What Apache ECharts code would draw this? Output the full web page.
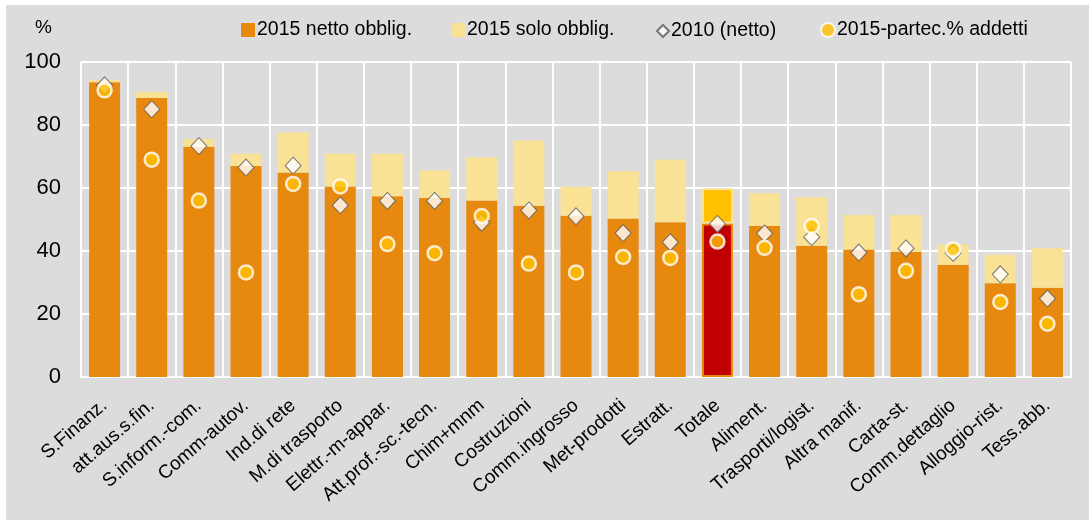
<!DOCTYPE html>
<html>
<head>
<meta charset="utf-8">
<script src="https://cdn.jsdelivr.net/npm/echarts@6/dist/echarts.min.js"></script>
<style>
html, body { margin: 0; padding: 0; background: #fff; }
#main { width: 1089px; height: 520px; }
</style>
</head>
<body>
<div id="main"></div>
<script>
var categories = ['S.Finanz.', 'att.aus.s.fin.', 'S.inform.-com.', 'Comm-autov.', 'Ind.di rete', 'M.di trasporto',
  'Elettr.-m-appar.', 'Att.prof.-sc.-tecn.', 'Chim+mnm', 'Costruzioni', 'Comm.ingrosso', 'Met-prodotti',
  'Estratt.', 'Totale', 'Aliment.', 'Trasporti/logist.', 'Altra manif.', 'Carta-st.', 'Comm.dettaglio',
  'Alloggio-rist.', 'Tess.abb.'];
// 2015 netto obblig.
var netto2015 = [93.6, 88.6, 73.1, 67.0, 64.9, 60.5, 57.4, 56.8, 56.0, 54.4, 51.2, 50.3, 49.1, 48.7, 47.9, 41.7, 40.5, 39.7, 35.6, 29.8, 28.3];
// 2015 solo obblig. (parte sopra il netto)
var solo2015 = [0.7, 1.9, 2.4, 3.9, 12.7, 10.4, 13.5, 8.8, 13.7, 20.7, 9.2, 15.0, 19.9, 11.2, 10.4, 15.4, 10.9, 11.7, 6.5, 9.0, 12.6];
// 2010 (netto)
var netto2010 = [92.6, 85.0, 73.3, 66.5, 67.1, 54.5, 55.9, 55.9, 49.0, 52.9, 51.0, 45.7, 42.8, 48.6, 45.6, 44.4, 39.5, 40.8, 39.4, 32.6, 24.9];
// 2015-partec.% addetti
var partec2015 = [91.0, 69.0, 56.0, 33.2, 61.3, 60.5, 42.2, 39.3, 51.1, 36.0, 33.2, 38.1, 37.8, 43.0, 41.0, 47.9, 26.3, 33.7, 40.5, 23.8, 16.9];
var yTicks = [0, 20, 40, 60, 80, 100];

var totIdx = categories.indexOf('Totale');
var fontF = "'Liberation Sans', Arial, sans-serif";

var myChart = echarts.init(document.getElementById('main'));

var nettoData = netto2015.map(function (v, i) {
  if (i == totIdx) {
    return { value: v, itemStyle: { color: '#c00000', borderColor: '#e8890f', borderWidth: 2 } };
  }
  return v;
});
var soloData = solo2015.map(function (v, i) {
  if (i == totIdx) {
    return { value: v, itemStyle: { color: '#ffc000', borderColor: '#f9e196', borderWidth: 2 } };
  }
  return v;
});

var legendBase = {
  top: 15,
  itemWidth: 14,
  itemHeight: 14,
  itemGap: 0,
  textStyle: { fontFamily: fontF, fontSize: 19.5, color: '#000', padding: [0, 0, 0, -3] }
};

var option = {
  backgroundColor: '#fff',
  animation: false,
  graphic: [
    { type: 'rect', shape: { x: 6, y: 5, width: 1083, height: 515 }, style: { fill: '#dcdcdc' }, z: -10 },
    { type: 'text', left: 35, top: 18, style: { text: '%', font: "19px 'Liberation Sans', sans-serif", fill: '#000' } }
  ],
  legend: [
    Object.assign({}, legendBase, { left: 236, data: [{ name: '2015 netto obblig.', icon: 'rect' }] }),
    Object.assign({}, legendBase, { left: 446, data: [{ name: '2015 solo obblig.', icon: 'rect' }] }),
    Object.assign({}, legendBase, { left: 651, itemWidth: 12, itemHeight: 12, top: 16, data: [{ name: '2010 (netto)', icon: 'diamond' }] }),
    Object.assign({}, legendBase, { left: 815, data: [{ name: '2015-partec.% addetti', icon: 'circle' }] })
  ],
  grid: {
    left: 81,
    right: 18,
    top: 62,
    bottom: 143
  },
  xAxis: {
    type: 'category',
    data: categories,
    axisLine: { lineStyle: { color: '#fff', width: 2 } },
    axisTick: { show: false },
    splitLine: { show: true, interval: 0, lineStyle: { color: '#fff', width: 2 } },
    axisLabel: {
      interval: 0,
      rotate: 41,
      margin: 26,
      fontFamily: fontF,
      fontSize: 19,
      color: '#000'
    }
  },
  yAxis: {
    type: 'value',
    min: 0,
    max: 100,
    interval: 20,
    axisLine: { show: false },
    axisTick: { show: false },
    splitLine: { lineStyle: { color: '#fff', width: 2 } },
    axisLabel: {
      margin: 20,
      fontFamily: fontF,
      fontSize: 22,
      color: '#000',
      formatter: function (v) { return yTicks.indexOf(v) >= 0 ? String(v) : ''; }
    }
  },
  series: [
    {
      name: '2015 netto obblig.',
      type: 'bar',
      stack: 'obblig',
      barWidth: 31,
      itemStyle: { color: '#e8890f' },
      data: nettoData
    },
    {
      name: '2015 solo obblig.',
      type: 'bar',
      stack: 'obblig',
      barWidth: 31,
      itemStyle: { color: '#f9e196' },
      data: soloData
    },
    {
      name: '2010 (netto)',
      type: 'scatter',
      symbol: 'diamond',
      symbolSize: [16, 17],
      itemStyle: { color: '#fff', borderColor: '#595959', borderWidth: 1 },
      data: netto2010,
      z: 3
    },
    {
      name: '2015-partec.% addetti',
      type: 'scatter',
      symbol: 'circle',
      symbolSize: 14,
      itemStyle: { color: '#ffc000', borderColor: '#fff', borderWidth: 2.5 },
      data: partec2015,
      z: 4
    }
  ]
};

myChart.setOption(option);
</script>
</body>
</html>
